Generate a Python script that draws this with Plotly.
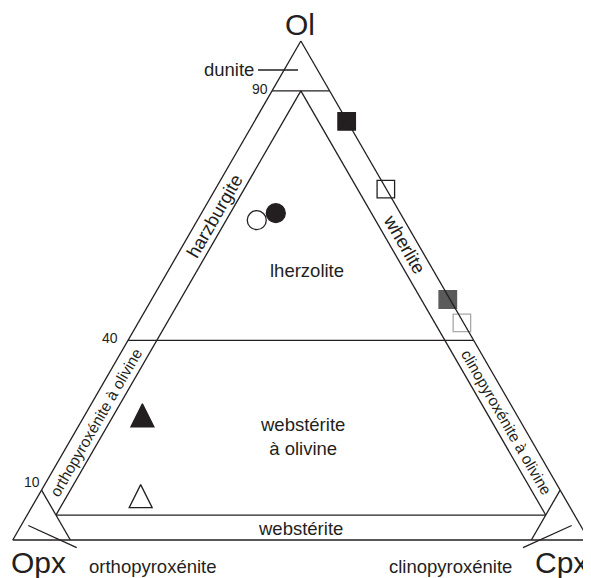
import plotly.graph_objects as go

# ---------------- data (percent Ol / Opx / Cpx) ----------------
sample_ol = [83.9, 70.3, 48.2, 43.5, 65.5, 64.1, 25.0, 8.8]
sample_opx = [0.1, 0.1, 0.4, 0.3, 21.6, 25.6, 65.0, 73.4]
sample_cpx = [16.0, 29.6, 51.4, 56.2, 12.9, 10.3, 10.0, 17.8]
sample_symbol = ["square", "square", "square", "square", "circle", "circle", "arrow-down", "arrow-down"]
sample_fill = ["#231f20", "#ffffff", "#5a5a5a", "#ffffff", "#231f20", "#ffffff", "#231f20", "#ffffff"]
sample_edge = ["#231f20", "#231f20", "#5a5a5a", "#a8a8a8", "#231f20", "#231f20", "#231f20", "#231f20"]

# classification boundaries (Streckeisen): each is [start, end] in Ol / Opx / Cpx
boundary_names = ["Ol 90", "Ol 40", "Ol 5", "Cpx 5", "Opx 5", "Opx 90", "Cpx 90"]
boundary_ol = [[90, 90], [40, 40], [5, 5], [90, 5], [90, 5], [10, 0], [10, 0]]
boundary_opx = [[10, 0], [60, 0], [90, 5], [5, 90], [5, 5], [90, 90], [0, 10]]
boundary_cpx = [[0, 10], [0, 60], [5, 90], [5, 5], [5, 90], [0, 10], [90, 90]]

INK = "#231f20"
FONT = "Arial, Liberation Sans, sans-serif"
PAGE_W, PAGE_H = 591, 578
OFF = 8  # default body margin of the html page
W, H = PAGE_W - OFF, PAGE_H - OFF

fig = go.Figure()

for name, a, b, c in zip(boundary_names, boundary_ol, boundary_opx, boundary_cpx):
    fig.add_trace(go.Scatterternary(
        a=a, b=b, c=c, mode="lines", name=name,
        line=dict(color=INK, width=1.3), hoverinfo="skip"))

for i in range(len(sample_ol)):
    sym = sample_symbol[i]
    size = 23 if sym.startswith("arrow") else (19 if sym == "circle" else 17.5)
    marker = dict(symbol=sym, size=size, color=sample_fill[i],
                  line=dict(color=sample_edge[i], width=1.3))
    if sym.startswith("arrow"):
        marker.update(angle=180, standoff=size / 2)
    fig.add_trace(go.Scatterternary(
        a=[sample_ol[i]], b=[sample_opx[i]], c=[sample_cpx[i]],
        mode="markers", marker=marker, cliponaxis=False))

axis_style = dict(showline=True, linecolor=INK, linewidth=1.3, showgrid=False,
                  showticklabels=False, ticks="", title=dict(text=""))

# triangle placement in the page (pixels)
tri_left, tri_right, tri_top, tri_bottom = 12.7, 589.0, 41.0, 540.0


def px(x, y):
    return (x - OFF) / W, 1 - (y - OFF) / H


labels = [
    ("Ol", 300, 25, 30, 0),
    ("Opx", 38.5, 562, 30, 0),
    ("Cpx", 561.5, 562, 30, 0),
    ("dunite", 228.5, 69, 18.5, 0),
    ("90", 260, 88.5, 14, 0),
    ("40", 110, 338, 14, 0),
    ("10", 31.7, 481.7, 14, 0),
    ("harzburgite", 214, 216, 18.5, -60),
    ("wherlite", 404, 244, 18.5, 60),
    ("lherzolite", 306.7, 270.5, 18.5, 0),
    ("orthopyroxénite à olivine", 96, 422.5, 15.5, -60),
    ("clinopyroxénite à olivine", 506.5, 422.5, 15.5, 60),
    ("webstérite<br>à olivine", 302.5, 436, 18.5, 0),
    ("webstérite", 300.8, 528, 18.5, 0),
    ("orthopyroxénite", 152.5, 566, 18.5, 0),
    ("clinopyroxénite", 450, 566, 18.5, 0),
]
annotations = []
for text, x, y, fs, ang in labels:
    ax_, ay_ = px(x, y)
    annotations.append(dict(text=text, x=ax_, y=ay_, xref="paper", yref="paper",
                            xanchor="center", yanchor="middle", showarrow=False,
                            textangle=ang, font=dict(family=FONT, size=fs, color=INK)))

leaders = [((258, 70), (298, 70)), ((28.3, 525.5), (76.7, 547.7)), ((571.7, 525.5), (523, 547.7))]
shapes = []
for (x1, y1), (x2, y2) in leaders:
    p1, p2 = px(x1, y1), px(x2, y2)
    shapes.append(dict(type="line", xref="paper", yref="paper", x0=p1[0], y0=p1[1],
                       x1=p2[0], y1=p2[1], line=dict(color=INK, width=1.3)))

d_left, d_bottom = px(tri_left, tri_bottom)
d_right, d_top = px(tri_right, tri_top)

fig.update_layout(
    width=W, height=H, margin=dict(l=0, r=0, t=0, b=0),
    paper_bgcolor="white", plot_bgcolor="white", showlegend=False, hovermode=False,
    ternary=dict(
        sum=100, bgcolor="white",
        domain=dict(x=[d_left, d_right], y=[d_bottom, d_top]),
        aaxis=axis_style, baxis=axis_style, caxis=axis_style),
    annotations=annotations, shapes=shapes,
)

fig.write_html("out.html")
